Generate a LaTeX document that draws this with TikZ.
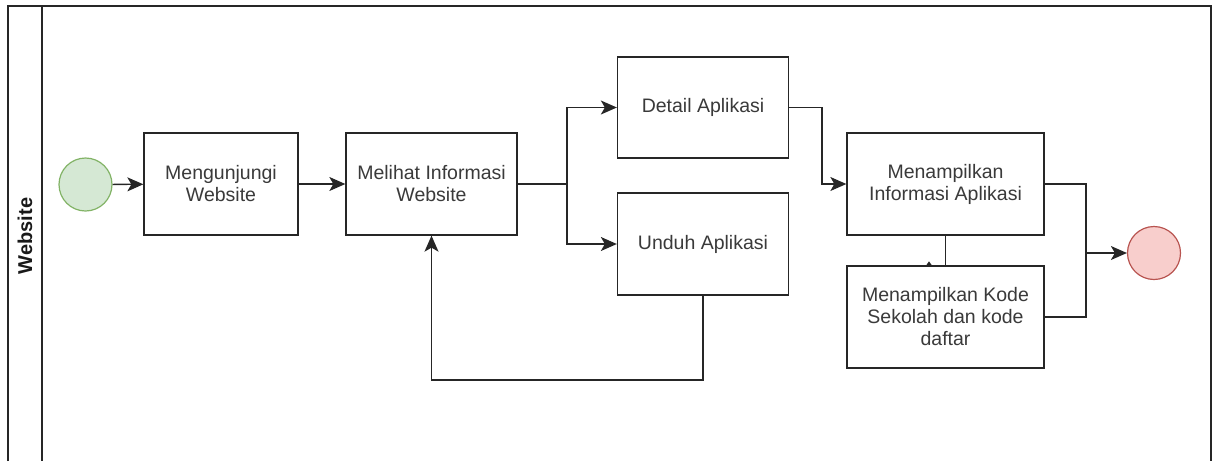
\documentclass[tikz,border=0pt]{standalone}
\usepackage{fontspec}
\setmainfont{Liberation Sans}
\usetikzlibrary{arrows.meta}
\definecolor{txtgray}{HTML}{3A3A3A}
\definecolor{startfill}{HTML}{D5E8D4}
\definecolor{startline}{HTML}{82B366}
\definecolor{endfill}{HTML}{F8CECC}
\definecolor{endline}{HTML}{B85450}
\begin{document}
\begin{tikzpicture}[x=1pt,y=-1pt,
  >={Stealth[length=16pt,width=14pt,inset=4pt]},
  task/.style={draw=black!85, line width=1.3pt, fill=white, inner sep=0pt,
    align=center, text=txtgray, font=\fontsize{19.5}{22}\selectfont},
  event/.style={circle, line width=1.2pt, inner sep=0pt, minimum size=53pt},
  flow/.style={draw=black!85, line width=1.3pt, ->},
  plain/.style={draw=black!85, line width=1.3pt},
  lane/.style={draw=black!85, line width=1.5pt}]
\useasboundingbox (0,0) rectangle (1214,461);

% swimlane frame and title strip
\draw[lane] (8,461) -- (8,6) -- (1211,6) -- (1211,461);
\draw[lane] (42,6) -- (42,461);
\node[rotate=90, font=\bfseries\fontsize{20}{24}\selectfont, text=black!90] (lanetitle) at (25,236) {Website};

% events
\node[event, draw=startline, fill=startfill] (start) at (85.5,184.5) {};
\node[event, draw=endline, fill=endfill] (finish) at (1154,253) {};

% tasks
\node[task, minimum width=154pt, minimum height=102pt] (visit) at (221,184) {Mengunjungi\\Website};
\node[task, minimum width=171pt, minimum height=102pt] (info) at (431.5,184) {Melihat Informasi\\Website};
\node[task, minimum width=171pt, minimum height=101pt] (detail) at (703,107.5) {Detail Aplikasi};
\node[task, minimum width=171pt, minimum height=102pt] (unduh) at (703,244) {Unduh Aplikasi};
\node[task, minimum width=197pt, minimum height=102pt] (appinfo) at (945.5,184) {Menampilkan\\Informasi Aplikasi};
\node[task, minimum width=197pt, minimum height=102pt] (kode) at (945.5,317) {Menampilkan Kode\\Sekolah dan kode\\daftar};

% junction points of the connectors
\coordinate (split) at (567,184);
\coordinate (loopturn) at (703,380);
\coordinate (detailturn) at (822,107.5);
\coordinate (merge) at (1086,253);

% sequence flows
\draw[flow] (start) -- (visit);
\draw[flow] (visit) -- (info);
\draw[plain] (info.east) -- (split);
\draw[flow] (split) |- (detail.west);
\draw[flow] (split) |- (unduh.west);
\draw[flow] (unduh.south) -- (loopturn) -| (info.south);
\draw[flow] (detail.east) -- (detailturn) |- (appinfo.west);
\draw[plain] (appinfo.south) -- (kode.north);
\fill[black!85] ([xshift=-16.5pt,yshift=0.5pt]kode.north) -- ++(-2.5pt,0) -- ++(2.5pt,3.5pt) -- ++(2.5pt,-3.5pt) -- cycle;
\draw[plain] (appinfo.east) -| (merge);
\draw[plain] (kode.east) -| (merge);
\draw[flow] (merge) -- (finish);
\end{tikzpicture}
\end{document}
